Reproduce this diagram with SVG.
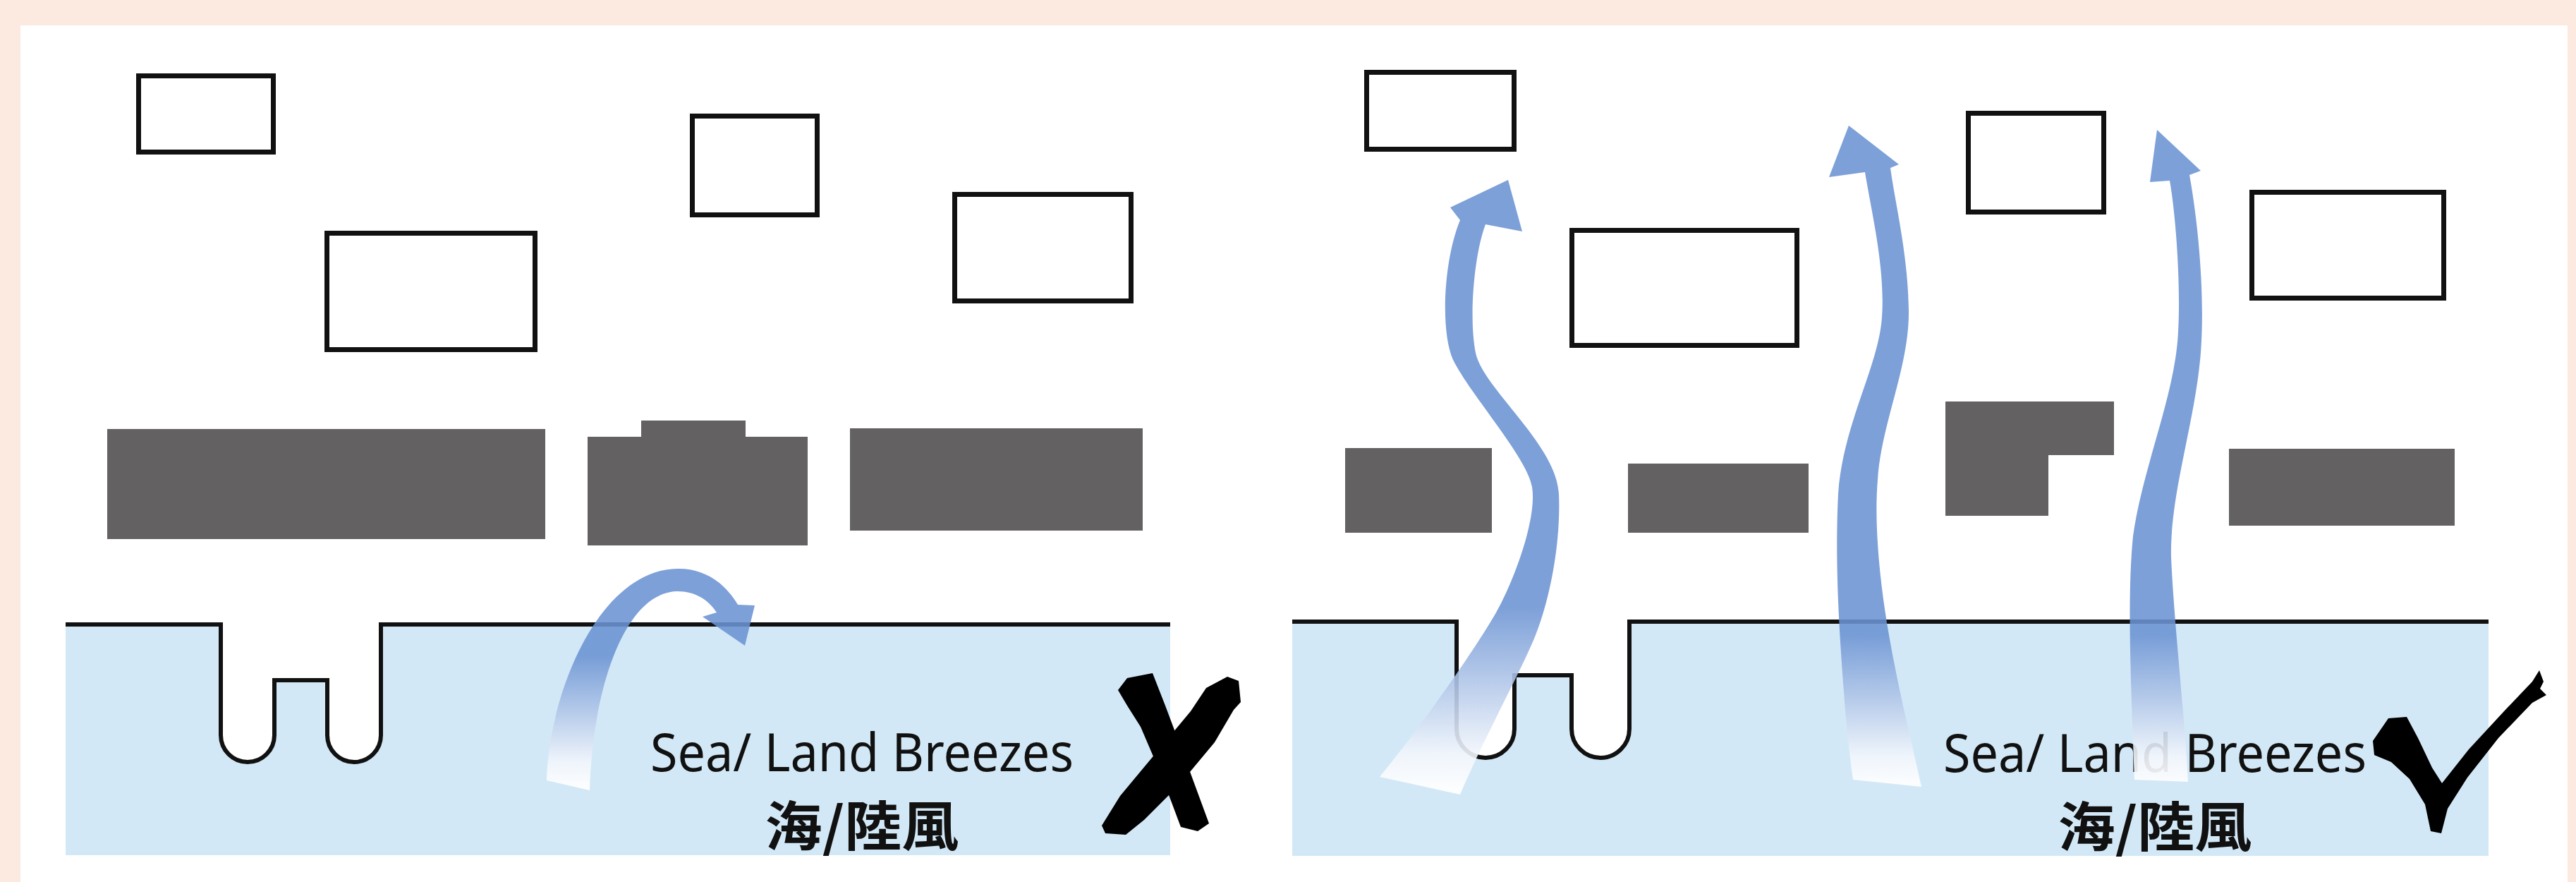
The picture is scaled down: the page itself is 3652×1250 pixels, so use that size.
<svg xmlns="http://www.w3.org/2000/svg" width="3652" height="1250" viewBox="0 0 3652 1250">
<style>
.bld{fill:#fff;stroke:#111;stroke-width:7}
.dark{fill:#646162}
.water{fill:#d3e8f6}
.coast{fill:none;stroke:#111;stroke-width:6}
.lbl{font-family:"Noto Sans","Open Sans","Noto Sans CJK TC",sans-serif;font-size:74px;fill:#111}
.cjk{font-family:"Noto Sans CJK TC","Noto Sans CJK SC",sans-serif;font-size:76px;font-weight:bold;fill:#111}
.mark{fill:#000}
</style>
<defs>
<linearGradient id="gHook" gradientUnits="userSpaceOnUse" x1="0" y1="1118" x2="0" y2="930">
<stop offset="0" stop-color="#ffffff" stop-opacity="0.95"/>
<stop offset="0.2" stop-color="#f2f6fc" stop-opacity="0.9"/>
<stop offset="1" stop-color="#6b93d3" stop-opacity="0.88"/>
</linearGradient>
<linearGradient id="gA1" gradientUnits="userSpaceOnUse" x1="0" y1="1120" x2="0" y2="860">
<stop offset="0" stop-color="#ffffff" stop-opacity="0.95"/>
<stop offset="0.2" stop-color="#f2f6fc" stop-opacity="0.9"/>
<stop offset="1" stop-color="#6b93d3" stop-opacity="0.88"/>
</linearGradient>
<linearGradient id="gA2" gradientUnits="userSpaceOnUse" x1="0" y1="1115" x2="0" y2="900">
<stop offset="0" stop-color="#ffffff" stop-opacity="0.95"/>
<stop offset="0.2" stop-color="#f2f6fc" stop-opacity="0.9"/>
<stop offset="1" stop-color="#6b93d3" stop-opacity="0.88"/>
</linearGradient>
</defs>

<rect x="0" y="0" width="3652" height="1250" fill="#fce9e0"/>
<rect x="29" y="36" width="3611" height="1214" fill="#ffffff"/>

<!-- Left panel -->
<g id="left-panel">
<g id="left-water">
<path class="water" d="M93,885 H313 V1042 A38,38 0 0 0 389,1042 V964 H464 V1042 A38,38 0 0 0 540,1042 V885 H1659 V1212 H93 Z"/>
<path class="coast" d="M93,885 H313 V1042 A38,38 0 0 0 389,1042 V964 H464 V1042 A38,38 0 0 0 540,1042 V885 H1659"/>
</g>
<g id="L-b1"><rect class="bld" x="196.5" y="107.5" width="191" height="108"/></g>
<g id="L-b2"><rect class="bld" x="463.5" y="330.5" width="295" height="165"/></g>
<g id="L-b3"><rect class="bld" x="981.5" y="164.5" width="177" height="140"/></g>
<g id="L-b4"><rect class="bld" x="1353.5" y="275.5" width="250" height="151"/></g>
<g id="L-d1"><rect class="dark" x="152" y="608" width="621" height="156"/></g>
<g id="L-d2"><path class="dark" d="M833,619 H909 V596 H1057 V619 H1145 V773 H833 Z"/></g>
<g id="L-d3"><rect class="dark" x="1205" y="607" width="415" height="145"/></g>
<g id="L-label">
<text class="lbl" x="1222" y="1093" text-anchor="middle" textLength="600" lengthAdjust="spacingAndGlyphs">Sea/ Land Breezes</text>
<text class="cjk" x="1222" y="1199" text-anchor="middle" textLength="275" lengthAdjust="spacingAndGlyphs">海/陸風</text>
</g>
<g id="L-cross">
<path class="mark" d="M1585,978 L1598,961 L1634,954 L1652,1000 L1682,1080 L1714,1167 L1698,1178 L1674,1172 L1647,1100 L1617,1030 L1598,1000 Z"/>
<path class="mark" d="M1710,975 L1740,959 L1756,965 L1759,995 L1749,1006 L1722,1052 L1672,1112 L1622,1162 L1596,1183 L1567,1181 L1562,1170 L1588,1128 L1638,1068 L1688,1008 Z"/>
</g>
</g>

<!-- Right panel -->
<g id="right-panel">
<g id="right-water">
<path class="water" d="M1832,881 H2065 V1033 A41,41 0 0 0 2147,1033 V957 H2228 V1033 A41,41 0 0 0 2310,1033 V881 H3528 V1213 H1832 Z"/>
<path class="coast" d="M1832,881 H2065 V1033 A41,41 0 0 0 2147,1033 V957 H2228 V1033 A41,41 0 0 0 2310,1033 V881 H3528"/>
</g>
<g id="R-b1"><rect class="bld" x="1937.5" y="102.5" width="209" height="109"/></g>
<g id="R-b2"><rect class="bld" x="2228.5" y="326.5" width="319" height="163"/></g>
<g id="R-b3"><rect class="bld" x="2790.5" y="160.5" width="192" height="140"/></g>
<g id="R-b4"><rect class="bld" x="3192.5" y="272.5" width="272" height="150"/></g>
<g id="R-d1"><rect class="dark" x="1907" y="635" width="208" height="120"/></g>
<g id="R-d2"><rect class="dark" x="2308" y="657" width="256" height="98"/></g>
<g id="R-d3"><path class="dark" d="M2758,569 H2997 V645 H2904 V731 H2758 Z"/></g>
<g id="R-d4"><rect class="dark" x="3160" y="636" width="320" height="109"/></g>
<g id="R-label">
<text class="lbl" x="3055" y="1094" text-anchor="middle" textLength="600" lengthAdjust="spacingAndGlyphs">Sea/ Land Breezes</text>
<text class="cjk" x="3055" y="1200" text-anchor="middle" textLength="275" lengthAdjust="spacingAndGlyphs">海/陸風</text>
</g>
<g id="R-check">
<path class="mark" d="M3364,1050 L3386,1018 L3412,1016 L3428,1046 L3448,1088 L3462,1110 L3500,1062 L3550,1008 L3590,966 L3600,950 L3606,966 L3601,976 L3610,985 L3590,996 L3542,1046 L3498,1102 L3470,1146 L3461,1181 L3446,1178 L3438,1140 L3416,1104 L3390,1080 L3366,1070 Z"/>
</g>
</g>

<!-- Connectors: breeze arrows -->
<g id="connectors">
<path id="arrow-hook" fill="url(#gHook)" d="M775,1106 C778,985 848,808 960,806 C1002,805 1030,830 1046,857 L1070,858 L1056,915 L996,874 L1016,868 C1004,850 986,838 960,838 C884,840 840,980 836,1120 Z"/>
<path id="arrow-r1" fill="url(#gA1)" d="M1956,1101 C2010,1035 2085,930 2120,870 C2140,836 2180,740 2172,690 C2165,648 2085,560 2060,510 C2042,470 2046,370 2070,312 L2056,294 L2138,255 L2158,328 L2106,318 C2090,360 2082,450 2092,500 C2102,550 2207,630 2210,700 C2213,770 2197,850 2177,900 C2157,950 2102,1050 2070,1126 Z"/>
<path id="arrow-r2" fill="url(#gA2)" d="M2644,244 C2653,300 2673,380 2668,450 C2663,520 2613,600 2606,700 C2601,800 2608,900 2614,980 C2618,1040 2624,1080 2627,1105 L2724,1115 C2712,1060 2692,980 2678,900 C2664,820 2657,740 2662,680 C2667,600 2707,520 2706,440 C2705,360 2687,290 2680,238 L2692,233 L2621,178 L2593,251 Z"/>
<path id="arrow-r3" fill="url(#gA2)" d="M3076,256 C3084,300 3092,400 3088,470 C3084,560 3038,660 3024,760 C3016,840 3020,950 3026,1105 L3102,1108 C3096,1000 3082,880 3078,790 C3076,700 3112,600 3120,500 C3126,420 3117,320 3104,248 L3120,242 L3058,184 L3048,258 Z"/>
</g>
</svg>
